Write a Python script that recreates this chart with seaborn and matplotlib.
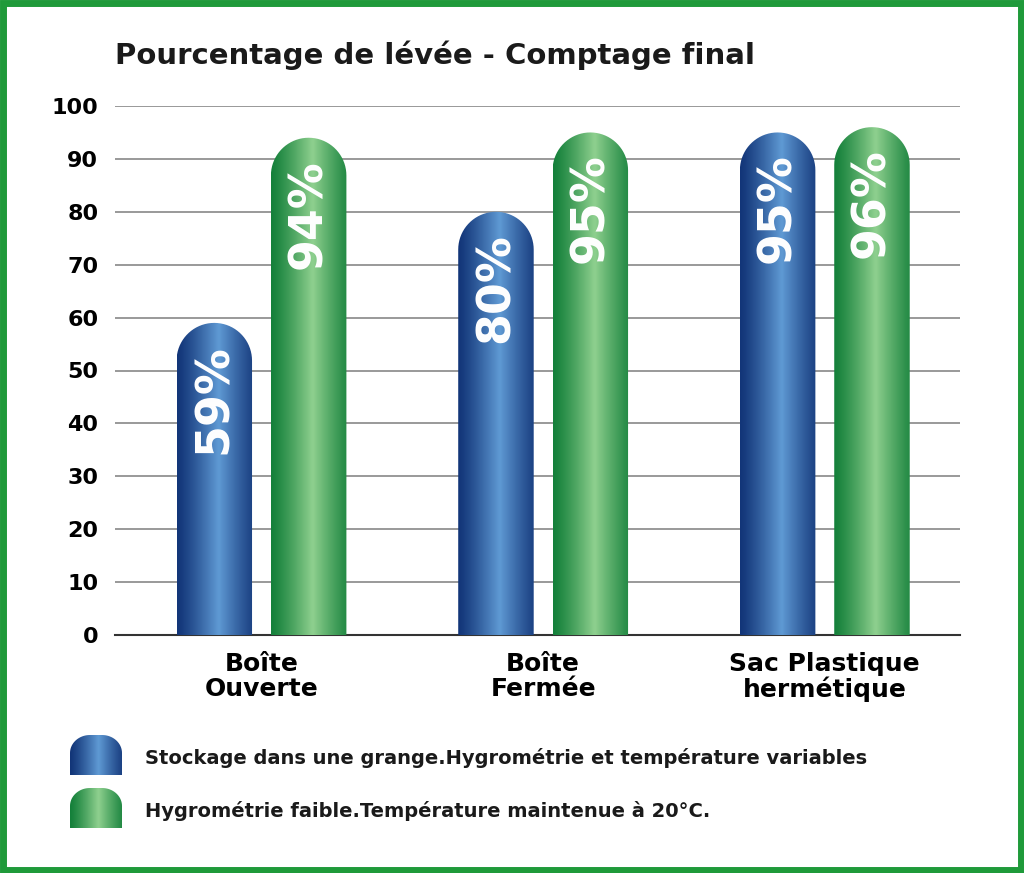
import numpy as np
import pandas as pd
import matplotlib
matplotlib.use("Agg")
import matplotlib.pyplot as plt
import seaborn as sns
from matplotlib.path import Path
from matplotlib.patches import PathPatch, Rectangle

categories = ["Boîte\nOuverte", "Boîte\nFermée", "Sac Plastique\nhermétique"]
series_names = ["Stockage dans une grange.Hygrométrie et température variables",
                "Hygrométrie faible.Température maintenue à 20°C."]
blue_values = [59, 80, 95]
green_values = [94, 95, 96]
yticks = [0, 10, 20, 30, 40, 50, 60, 70, 80, 90, 100]
title = "Pourcentage de lévée - Comptage final"

FONT = "DejaVu Sans"
W, H = 1024, 873
fig = plt.figure(figsize=(W/100, H/100), dpi=100)
ax = fig.add_axes([115/W, 1-635/H, 845/W, 529/H])

df = pd.DataFrame({"cat": categories*2, "val": blue_values+green_values,
                   "serie": [series_names[0]]*3 + [series_names[1]]*3})
sns.barplot(data=df, x="cat", y="val", hue="serie", ax=ax, width=0.67, gap=0.2,
            palette=["#2a5fa8", "#2a9a48"], legend=False)
ax.set_xlim(-0.52, 2.48)
ax.set_ylim(0, 100)
ax.set_yticks(yticks)
ax.set_xlabel(""); ax.set_ylabel("")
for s in ["top", "right", "left"]:
    ax.spines[s].set_visible(False)
ax.spines["bottom"].set_color("#333333"); ax.spines["bottom"].set_linewidth(1.5)
ax.yaxis.grid(True, color="#888888", lw=1.2)
ax.set_axisbelow(True)
ax.tick_params(axis="y", length=0, pad=12)
ax.tick_params(axis="x", length=0, pad=12)
for lab in ax.get_yticklabels():
    lab.set_fontfamily(FONT); lab.set_fontweight("bold"); lab.set_fontsize(16)
for lab in ax.get_xticklabels():
    lab.set_fontfamily(FONT); lab.set_fontweight("bold"); lab.set_fontsize(18)
    lab.set_linespacing(1.05)

px_per_x = 845/3.0
px_per_y = 529/100.0

def grad_img(c_edge, c_mid):
    t = np.linspace(0, 1, 64)
    prof = 1 - np.abs(t-0.55)/0.55
    prof = np.clip(prof, 0, 1)**1.2
    e = np.array(matplotlib.colors.to_rgb(c_edge)); m = np.array(matplotlib.colors.to_rgb(c_mid))
    row = e[None, :]*(1-prof[:, None]) + m[None, :]*prof[:, None]
    return row[None, :, :]

def rounded_path(x0, w, h, rx, ry):
    base = h-ry
    ang1 = np.linspace(np.pi, np.pi/2, 20)
    ang2 = np.linspace(np.pi/2, 0, 20)
    verts = [(x0, 0), (x0, base)]
    verts += [(x0+rx+rx*np.cos(a), base+ry*np.sin(a)) for a in ang1]
    verts += [(x0+w-rx+rx*np.cos(a), base+ry*np.sin(a)) for a in ang2]
    verts += [(x0+w, 0), (x0, 0)]
    codes = [Path.MOVETO] + [Path.LINETO]*(len(verts)-2) + [Path.CLOSEPOLY]
    return Path(verts, codes)

grads = [grad_img("#123578", "#5f9ad4"), grad_img("#14803a", "#8fd08f")]
patches = list(ax.patches)
for i, p in enumerate(patches):
    hue = i // 3
    x0, w, h = p.get_x(), p.get_width(), p.get_height()
    p.set_visible(False)
    ry = (w*px_per_x/2)/px_per_y
    pp = PathPatch(rounded_path(x0, w, h, w/2, ry), facecolor="none", edgecolor="none")
    ax.add_patch(pp)
    im = ax.imshow(grads[hue], extent=[x0, x0+w, 0, h], aspect="auto", zorder=3)
    im.set_clip_path(pp)
    ax.text(x0+w/2, h-4, f"{int(round(h))}%", rotation=90, ha="center", va="top",
            color="white", fontsize=33, fontweight="bold", fontfamily=FONT, zorder=4)
ax.set_xlim(-0.52, 2.48); ax.set_ylim(0, 100)

fig.text(115/W, 1-55/H, title, fontsize=21, fontweight="bold", fontfamily=FONT,
         va="center", ha="left", color="#1a1a1a")

ov = fig.add_axes([0, 0, 1, 1], zorder=5)
ov.set_xlim(0, W); ov.set_ylim(0, H); ov.axis("off"); ov.patch.set_alpha(0)
for k, (ytop, ybot) in enumerate([(735, 775), (788, 828)]):
    x0, w = 70, 52
    yb = H-ybot
    pth = rounded_path(x0, w, ybot-ytop, 20, 18)
    verts = [(vx, yb+vy) for vx, vy in pth.vertices]
    pp = PathPatch(Path(verts, pth.codes), facecolor="none", edgecolor="none")
    ov.add_patch(pp)
    im = ov.imshow(grads[k], extent=[x0, x0+w, yb, H-ytop], aspect="auto")
    im.set_clip_path(pp)
    ov.text(145, H-(ytop+ybot)/2-3, series_names[k], fontsize=14, fontweight="bold", fontfamily=FONT,
            va="center", ha="left", color="#1a1a1a")
ov.add_patch(Rectangle((3, 3), W-6, H-6, fill=False, edgecolor="#1f9a3a", lw=5))
ov.set_xlim(0, W); ov.set_ylim(0, H)

fig.savefig("out.png", dpi=100)
